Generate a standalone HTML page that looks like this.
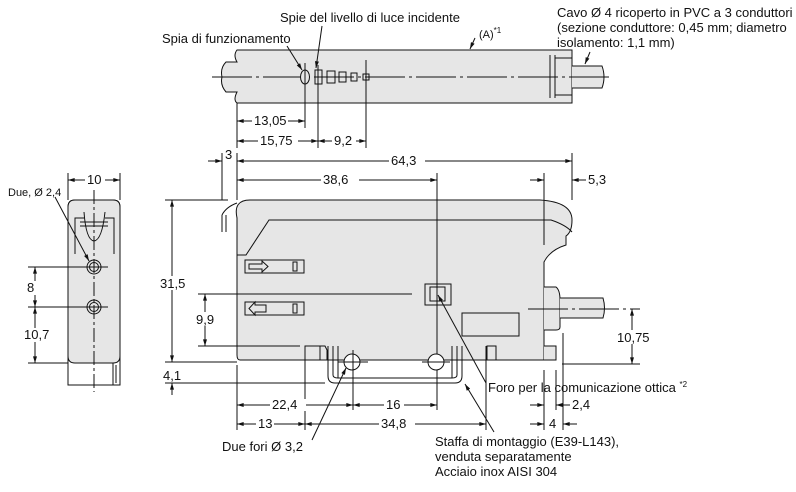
<!DOCTYPE html>
<html><head><meta charset="utf-8"><style>
html,body{margin:0;padding:0;background:#fff;width:796px;height:492px;overflow:hidden}
text{font-family:"Liberation Sans",sans-serif;font-size:13px;fill:#111}
</style></head><body>
<svg width="796" height="492" viewBox="0 0 796 492" xmlns="http://www.w3.org/2000/svg">
<defs>
<marker id="a" viewBox="0 0 10 6" refX="10" refY="3" markerWidth="8" markerHeight="4" orient="auto-start-reverse"><path d="M0,0L10,3L0,6z" fill="#111"/></marker>
</defs>
<g stroke="#111" stroke-width="1" fill="none">
<!-- TOP VIEW -->
<path d="M237,50 H572 V103 H237 Q233,100 237,92 H226 Q220,85 222,77 Q220,68 226,62 H237 Q233,55 237,50Z" fill="#e6e6e6"/>
<path d="M572,66 H602 Q606,77 602,88 H572" fill="#e6e6e6"/>
<path d="M550,55 V98 M555,55 V98 M555,58 H572 M555,95 H572"/>
<line x1="212" y1="77" x2="610" y2="77" stroke-dasharray="40,4,3,4"/>
<ellipse cx="305" cy="77" rx="4.5" ry="7" fill="#e6e6e6"/>
<rect x="315" y="70" width="7" height="14"/><rect x="327" y="71" width="8" height="12"/><rect x="339" y="72" width="7" height="10"/><rect x="351" y="73" width="6" height="8"/><rect x="363" y="74" width="6" height="6"/>
<line x1="305" y1="63" x2="305" y2="128"/><line x1="318" y1="65" x2="318" y2="148"/><line x1="366" y1="60" x2="366" y2="148"/><line x1="237" y1="103" x2="237" y2="148"/>
<line x1="237" y1="121" x2="305" y2="121" marker-start="url(#a)" marker-end="url(#a)"/>
<line x1="237" y1="141" x2="318" y2="141" marker-start="url(#a)" marker-end="url(#a)"/>
<line x1="318" y1="141" x2="366" y2="141" marker-start="url(#a)" marker-end="url(#a)"/>
<line x1="287" y1="46" x2="302" y2="70" marker-end="url(#a)"/>
<line x1="322" y1="26" x2="316" y2="68" marker-end="url(#a)"/>
<line x1="475" y1="38" x2="470" y2="49" marker-end="url(#a)"/>
<line x1="590" y1="52" x2="585" y2="64" marker-end="url(#a)"/>
<!-- FRONT VIEW -->
<path d="M237,218 Q233,200 250,200 H420 L437,200 H540 Q572,202 572,220 Q572,232 566,236 V245 Q550,250 544,262 V360 H240 Q237,360 237,355Z" fill="#e6e6e6"/>
<path d="M222,215 Q226,207 237,203 M222,215 V232 M226,215 V232"/>
<path d="M237,255 H246 L269,220 H551 Q566,225 572,232"/>
<path d="M544,287 H556 Q560,290 560,300 V327 Q560,330 556,330 H544" fill="#e6e6e6"/>
<path d="M560,298 H603 Q606,308 603,318 H560" fill="#e6e6e6"/>
<line x1="528" y1="309" x2="640" y2="309" stroke-dasharray="40,4,3,4"/>
<rect x="245" y="260" width="59" height="13"/><rect x="293" y="262" width="4" height="9"/><path d="M249,264 H262 V261 L268,266.5 L262,272 V269 H249Z"/>
<rect x="245" y="302" width="59" height="13"/><rect x="293" y="304" width="4" height="9"/><path d="M266,305 H255 V302 L249,308.5 L255,315 V312 H266Z"/>
<rect x="425" y="284" width="26" height="21"/><rect x="430" y="287" width="15" height="14"/>
<rect x="462" y="313" width="57" height="23"/>
<line x1="437" y1="173" x2="437" y2="410"/>
<path d="M305,346 H320 V360 H305Z M320,346 H325 L327,350 V360" fill="#e6e6e6"/>
<path d="M487,346 H496 V360 H487Z M544,346 H556 V360 H544" fill="#e6e6e6"/>
<path d="M328,346 V376 Q328,383 335,383 H455 Q462,383 462,376 V346 M333,346 V375 Q333,378 338,378 H452 Q457,378 457,375 V346 M338,346 V378 M452,346 V378"/>
<circle cx="352" cy="362" r="8" fill="#fff"/><circle cx="436" cy="362" r="8" fill="#fff"/>
<line x1="338" y1="362" x2="368" y2="362"/><line x1="422" y1="362" x2="450" y2="362"/>
<line x1="353" y1="350" x2="353" y2="410"/><line x1="486" y1="346" x2="486" y2="430"/><line x1="305" y1="360" x2="305" y2="430"/>
<line x1="237" y1="365" x2="237" y2="430"/>
<line x1="544" y1="370" x2="544" y2="430"/><line x1="556" y1="370" x2="556" y2="410"/><line x1="563" y1="333" x2="563" y2="430"/>
<!-- front dims -->
<line x1="222" y1="153" x2="222" y2="200"/><line x1="237" y1="153" x2="237" y2="200"/><line x1="572" y1="153" x2="572" y2="200"/><line x1="544" y1="173" x2="544" y2="245"/>
<line x1="208" y1="161" x2="222" y2="161" marker-end="url(#a)"/>
<line x1="237" y1="161" x2="572" y2="161" marker-start="url(#a)" marker-end="url(#a)"/>
<line x1="237" y1="180" x2="437" y2="180" marker-start="url(#a)" marker-end="url(#a)"/>
<line x1="530" y1="180" x2="544" y2="180" marker-end="url(#a)"/>
<line x1="586" y1="180" x2="572" y2="180" marker-end="url(#a)"/>
<line x1="165" y1="200" x2="228" y2="200"/><line x1="165" y1="362" x2="237" y2="362"/><line x1="165" y1="383" x2="325" y2="383"/>
<line x1="172" y1="200" x2="172" y2="362" marker-start="url(#a)" marker-end="url(#a)"/>
<line x1="172" y1="395" x2="172" y2="383" marker-end="url(#a)"/>
<line x1="172" y1="352" x2="172" y2="362"/>
<line x1="198" y1="294" x2="412" y2="294"/><line x1="198" y1="346" x2="300" y2="346"/>
<line x1="205" y1="294" x2="205" y2="346" marker-start="url(#a)" marker-end="url(#a)"/>
<line x1="562" y1="364" x2="640" y2="364"/>
<line x1="632" y1="309" x2="632" y2="364" marker-start="url(#a)" marker-end="url(#a)"/>
<line x1="237" y1="405" x2="353" y2="405" marker-start="url(#a)" marker-end="url(#a)"/>
<line x1="353" y1="405" x2="437" y2="405" marker-start="url(#a)" marker-end="url(#a)"/>
<line x1="237" y1="424" x2="305" y2="424" marker-start="url(#a)" marker-end="url(#a)"/>
<line x1="305" y1="424" x2="486" y2="424" marker-start="url(#a)" marker-end="url(#a)"/>
<line x1="530" y1="405" x2="544" y2="405" marker-end="url(#a)"/><line x1="570" y1="405" x2="556" y2="405" marker-end="url(#a)"/>
<line x1="530" y1="424" x2="544" y2="424" marker-end="url(#a)"/><line x1="577" y1="424" x2="563" y2="424" marker-end="url(#a)"/>
<line x1="486" y1="383" x2="438" y2="295" marker-end="url(#a)"/>
<line x1="312" y1="440" x2="346" y2="368" marker-end="url(#a)"/>
<line x1="494" y1="432" x2="465" y2="384" marker-end="url(#a)"/>
<!-- SIDE VIEW -->
<path d="M68,207 Q68,200 75,200 H113 Q120,200 120,207 V385 H68Z" fill="#fff"/>
<path d="M68,207 Q68,200 75,200 H113 Q120,200 120,207 V356 Q120,363 113,363 H75 Q68,363 68,356Z" fill="#e6e6e6"/>
<path d="M113,363 V385 M116,365 V383"/>
<path d="M75,254 V218 H84 M114,254 V218 H105 M80,222 H108 M80,226 H108 M84,212 Q86,240 94,241 Q102,240 105,212"/>
<circle cx="94" cy="267" r="7"/><circle cx="94" cy="267" r="4.5"/><circle cx="94" cy="307" r="7"/><circle cx="94" cy="307" r="4.5"/>
<line x1="94" y1="190" x2="94" y2="392" stroke-dasharray="14,3,3,3"/>
<line x1="80" y1="267" x2="108" y2="267"/><line x1="80" y1="307" x2="108" y2="307"/>
<line x1="68" y1="173" x2="68" y2="200"/><line x1="120" y1="173" x2="120" y2="200"/>
<line x1="68" y1="180" x2="120" y2="180" marker-start="url(#a)" marker-end="url(#a)"/>
<line x1="28" y1="267" x2="84" y2="267"/><line x1="28" y1="307" x2="84" y2="307"/><line x1="28" y1="363" x2="68" y2="363"/>
<line x1="35" y1="267" x2="35" y2="307" marker-start="url(#a)" marker-end="url(#a)"/>
<line x1="35" y1="307" x2="35" y2="363" marker-start="url(#a)" marker-end="url(#a)"/>
<line x1="55" y1="197" x2="89" y2="261" marker-end="url(#a)"/>
</g>
<g fill="#fff" stroke="none">
<rect x="252" y="115" width="36" height="12"/><rect x="258" y="135" width="40" height="12"/><rect x="332" y="135" width="24" height="12"/>
<rect x="389" y="155" width="36" height="12"/><rect x="321" y="174" width="38" height="12"/>
<rect x="270" y="399" width="36" height="12"/><rect x="384" y="399" width="20" height="12"/>
<rect x="256" y="418" width="18" height="12"/><rect x="379" y="418" width="36" height="12"/>
<rect x="85" y="174" width="20" height="12"/><rect x="24" y="281" width="22" height="14"/><rect x="22" y="328" width="30" height="14"/>
<rect x="160" y="276" width="28" height="14"/><rect x="192" y="312" width="26" height="14"/><rect x="615" y="330" width="38" height="14"/>
<rect x="547" y="418" width="14" height="12"/>
</g>
<text x="254" y="125">13,05</text><text x="260" y="145">15,75</text><text x="334" y="145">9,2</text>
<text x="225" y="159">3</text><text x="391" y="165">64,3</text><text x="323" y="184">38,6</text><text x="588" y="184">5,3</text>
<text x="160" y="288">31,5</text><text x="196" y="324">9,9</text><text x="163" y="380">4,1</text><text x="617" y="342">10,75</text>
<text x="272" y="409">22,4</text><text x="386" y="409">16</text><text x="572" y="409">2,4</text>
<text x="258" y="428">13</text><text x="381" y="428">34,8</text><text x="549" y="428">4</text>
<text x="87" y="184">10</text><text x="27" y="292">8</text><text x="24" y="339">10,7</text>
<text x="8" y="196" style="font-size:11px">Due, Ø 2,4</text>
<text x="162" y="43">Spia di funzionamento</text>
<text x="280" y="22">Spie del livello di luce incidente</text>
<text x="479" y="38" style="font-size:11px">(A)<tspan dy="-5" style="font-size:8px">*1</tspan></text>
<text x="557" y="17">Cavo Ø 4 ricoperto in PVC a 3 conduttori</text>
<text x="557" y="32">(sezione conduttore: 0,45 mm; diametro</text>
<text x="557" y="47">isolamento: 1,1 mm)</text>
<text x="488" y="392">Foro per la comunicazione ottica <tspan dy="-5" style="font-size:8px">*2</tspan></text>
<text x="222" y="451">Due fori Ø 3,2</text>
<text x="435" y="446">Staffa di montaggio (E39-L143),</text>
<text x="435" y="461">venduta separatamente</text>
<text x="435" y="476">Acciaio inox AISI 304</text>
</svg>
</body></html>
